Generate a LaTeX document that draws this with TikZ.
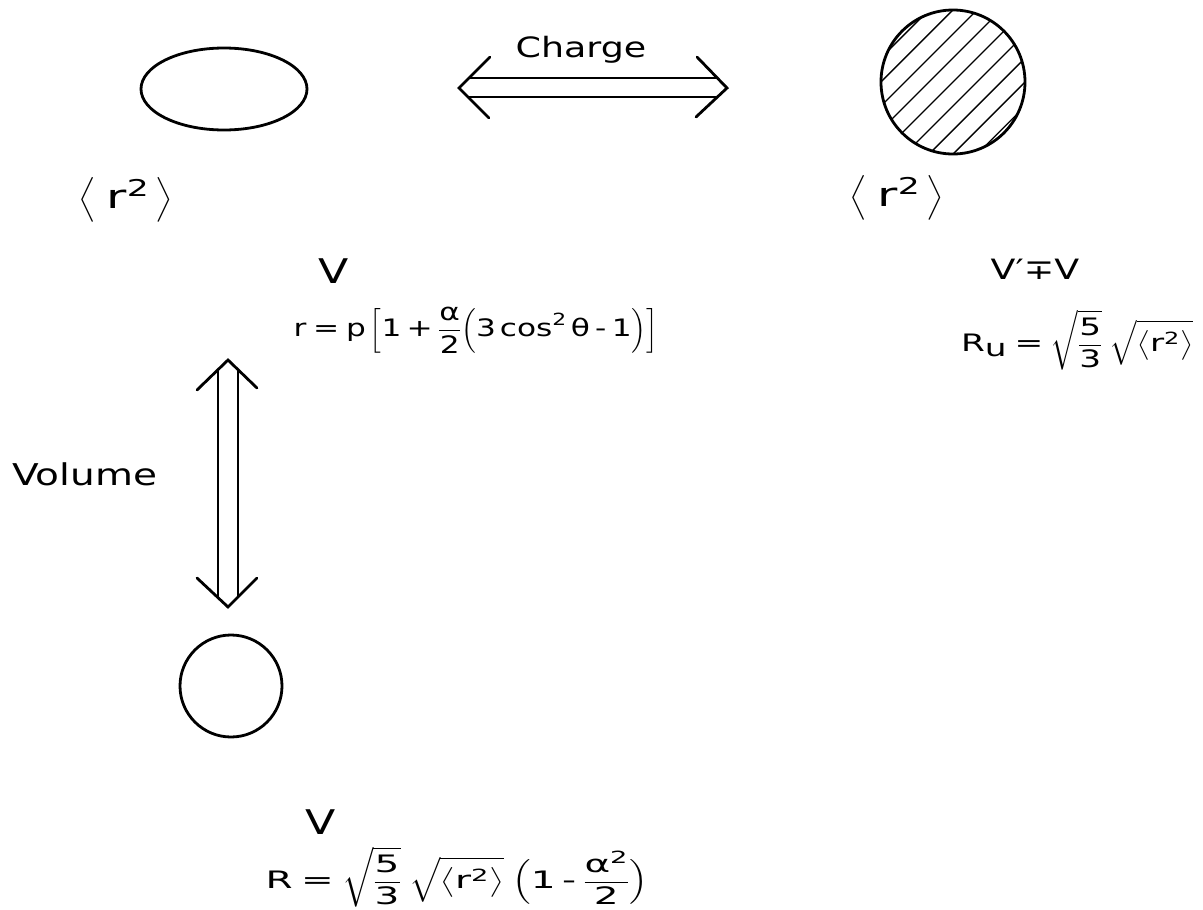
\documentclass[tikz,border=0pt]{standalone}
\usepackage{fix-cm}
\usepackage{amsmath}
\usepackage{fontspec}
\setmainfont{DejaVu Sans}[FakeStretch=1.3]
\usetikzlibrary{shapes.geometric,calc}
\newcommand\tx[1]{\text{#1}}
\newcommand\teq{\mathrel{\tx{=}}}
\newcommand\tplus{\mathbin{\tx{+}}}
\newcommand\tminus{\mathbin{\tx{-}}}
\begin{document}
\begin{tikzpicture}[x=1pt,y=-1pt,
  shapeline/.style={line width=2.8pt},
  twinline/.style={line width=2.3pt},
  armline/.style={line width=2.8pt,line cap=round},
  hatchline/.style={line width=1.3pt},
  lbl/.style={inner sep=0pt,font=\fontsize{28}{32}\selectfont},
  bigv/.style={inner sep=0pt,font=\fontsize{34}{38}\selectfont},
  frm/.style={inner sep=0pt,font=\fontsize{24}{29}\selectfont,transform shape},
  brk/.style={inner sep=0pt,font=\fontsize{33}{38}\selectfont,xscale=1.15,transform shape}]
\useasboundingbox (0,0) rectangle (1203,910);
\fill[white] (0,0) rectangle (1203,910);

% shapes
\node (ell) [shapeline,draw,ellipse,minimum width=166pt,minimum height=82pt,inner sep=0pt] at (224,89) {};
\node (hc) [shapeline,draw,circle,minimum size=144pt,inner sep=0pt] at (953,82) {};
\begin{scope}
  \clip (953,82) circle (72);
  \foreach \k in {-4,...,4} {
    \draw[hatchline] ($(953,82)+(\k*17*0.7071,\k*17*0.7071)+(-120,120)$) -- ++(240,-240);
  }
\end{scope}
\node (sc) [shapeline,draw,circle,minimum size=102pt,inner sep=0pt] at (231,686) {};

% labels
\node (chg) [lbl,anchor=base] at (581,57) {Charge};
\node (vol) [lbl,font=\fontsize{30}{34}\selectfont,anchor=base west] at (12,485) {Volume};
\node (rL) [brk] at (126,200) {$\bigl\langle\;\tx{r}^{\tx{2}}\,\bigr\rangle$};
\node (rR) [brk] at (897,198) {$\bigl\langle\;\tx{r}^{\tx{2}}\,\bigr\rangle$};
\node (v1) [bigv] at (334,271) {V};
\node (f1) [frm] at (476,330) {$\displaystyle \tx{r}\teq\tx{p}\,\Bigl[\tx{1}\tplus\frac{\tx{α}}{\tx{2}}\Bigl(\tx{3\,cos}^{\tx{2}}\,\tx{θ}\tminus\tx{1}\Bigr)\Bigr]$};
\node (v2) [lbl] at (1035,269) {V′∓V};
\node (f2) [frm,xscale=1.1] at (1077,340) {$\displaystyle \tx{R}_{\textstyle\tx{u}}\teq\sqrt{\frac{\tx{5}}{\tx{3}}}\;\sqrt{\bigl\langle\tx{r}^{\tx{2}}\bigr\rangle}$};
\node (v3) [bigv] at (321,822) {V};
\node (f3) [frm,xscale=1.25] at (457,877) {$\displaystyle \tx{R}\teq\sqrt{\frac{\tx{5}}{\tx{3}}}\;\sqrt{\bigl\langle\tx{r}^{\tx{2}}\bigr\rangle}\;\Bigl(\tx{1}\tminus\frac{\tx{α}^{\tx{2}}}{\tx{2}}\Bigr)$};

% charge arrow
\coordinate (cl) at (459,88);
\coordinate (cr) at (727,88);
\draw[twinline] ($(cl)+(10,-10)$) -- ($(cr)+(-9,-10)$);
\draw[twinline] ($(cl)+(10,9)$) -- ($(cr)+(-10,9)$);
\draw[armline] ($(cl)+(31,-31)$) -- (cl) -- ($(cl)+(30,30)$);
\draw[armline] ($(cr)+(-30,-31)$) -- (cr) -- ($(cr)+(-31,29)$);

% volume arrow
\coordinate (vt) at (228,360);
\coordinate (vb) at (228,607);
\draw[twinline] ($(vt)+(-10,10)$) -- ($(vb)+(-10,-10)$);
\draw[twinline] ($(vt)+(10,10)$) -- ($(vb)+(10,-10)$);
\draw[armline] ($(vt)+(-31,30)$) -- (vt) -- ($(vt)+(29,28)$);
\draw[armline] ($(vb)+(-31,-29)$) -- (vb) -- ($(vb)+(29,-29)$);
\end{tikzpicture}
\end{document}
